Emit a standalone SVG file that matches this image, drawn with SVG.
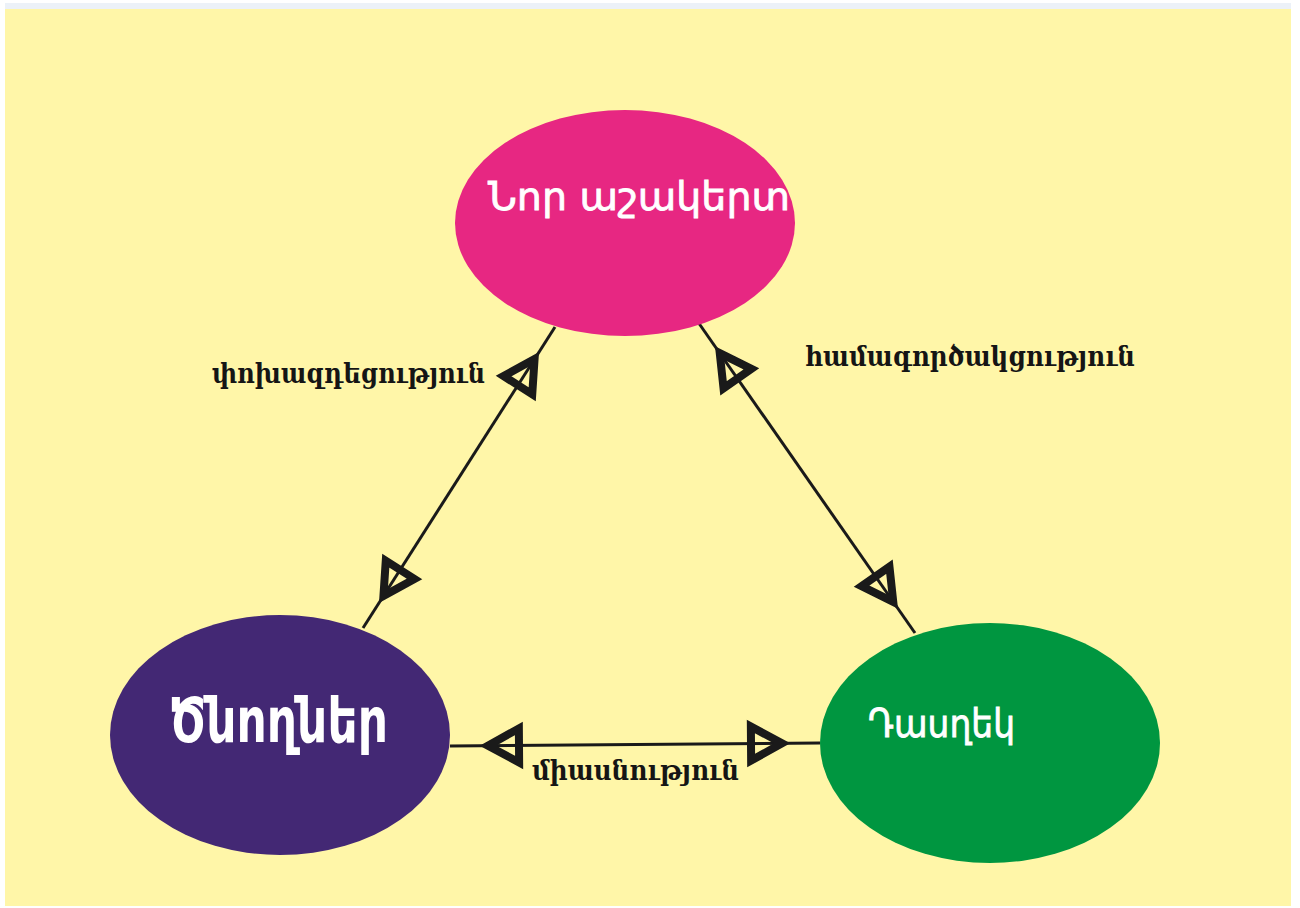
<svg xmlns="http://www.w3.org/2000/svg" width="1300" height="908" viewBox="0 0 1300 908">
  <style>
    .node-text { fill: #ffffff; font-family: "DejaVu Sans", "Noto Sans", sans-serif; }
    .label { fill: #151515; font-family: "DejaVu Serif", "Liberation Serif", serif; font-weight: bold; font-size: 28px; }
    .conn { stroke: #1a1a1a; stroke-width: 3; fill: none; marker-start: url(#arr); marker-end: url(#arr); }
  </style>
  <defs>
    <marker id="arr" markerUnits="userSpaceOnUse" orient="auto-start-reverse" refX="0" refY="0" markerWidth="10" markerHeight="10" overflow="visible">
      <polygon points="-38,0 -69,-17 -69,17" fill="none" stroke="#1a1a1a" stroke-width="8" stroke-linejoin="miter" stroke-miterlimit="10"/>
    </marker>
  </defs>

  <rect x="0" y="0" width="1300" height="908" fill="#ffffff"/>
  <rect x="5" y="3" width="1286" height="7" fill="#ECF1F8"/>
  <rect x="5" y="9" width="1286" height="897" fill="#FFF6A8"/>

  <g id="connectors">
    <line class="conn" x1="555" y1="327" x2="363" y2="628"/>
    <line class="conn" x1="698" y1="322" x2="915" y2="633"/>
    <line class="conn" x1="450" y1="746" x2="820" y2="743"/>
  </g>

  <g id="node-new-student">
    <ellipse cx="625" cy="223" rx="170" ry="113" fill="#E72782"/>
    <text class="node-text" x="488" y="210" font-size="39" stroke="#ffffff" stroke-width="0.8" textLength="302" lengthAdjust="spacingAndGlyphs">Նոր աշակերտ</text>
  </g>

  <g id="node-parents">
    <ellipse cx="280" cy="735" rx="170" ry="120" fill="#432874"/>
    <text class="node-text" x="169" y="742" font-size="62" font-weight="bold" textLength="219" lengthAdjust="spacingAndGlyphs">Ծնողներ</text>
  </g>

  <g id="node-teacher">
    <ellipse cx="990" cy="743" rx="170" ry="120" fill="#009640"/>
    <text class="node-text" x="868" y="737" font-size="39" stroke="#ffffff" stroke-width="0.8" textLength="147" lengthAdjust="spacingAndGlyphs">Դասղեկ</text>
  </g>

  <g id="labels">
    <text class="label" x="212" y="383" textLength="273" lengthAdjust="spacingAndGlyphs">փոխազդեցություն</text>
    <text class="label" x="805" y="366" textLength="330" lengthAdjust="spacingAndGlyphs">համագործակցություն</text>
    <text class="label" x="532" y="780" textLength="207" lengthAdjust="spacingAndGlyphs">միասնություն</text>
  </g>
</svg>
